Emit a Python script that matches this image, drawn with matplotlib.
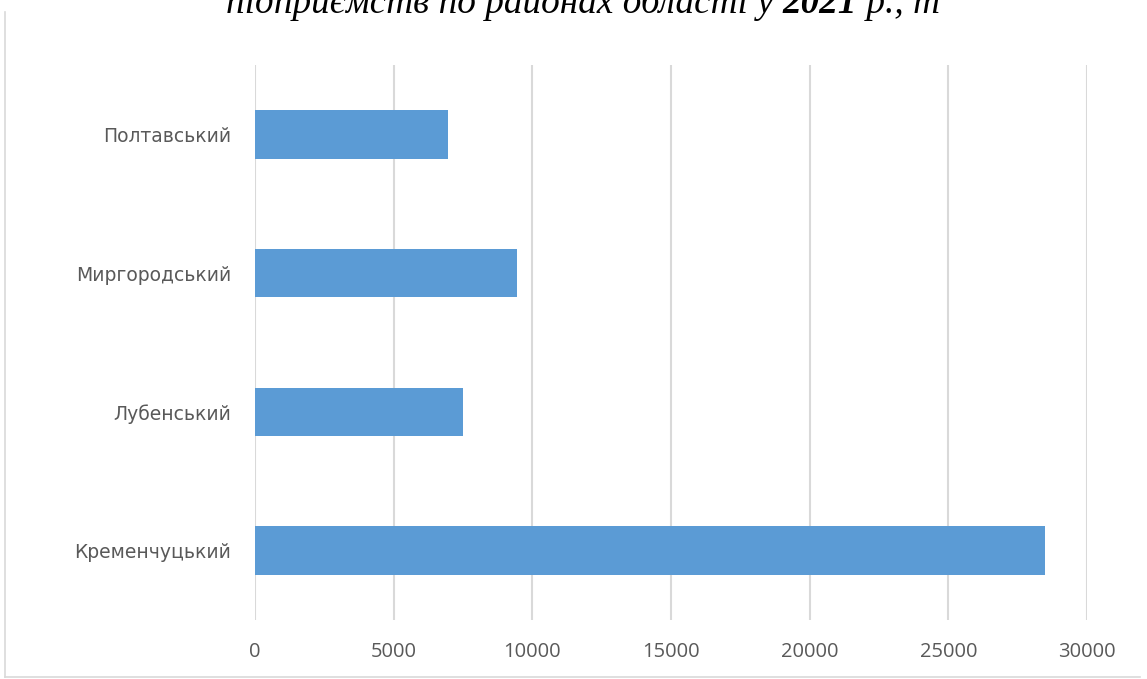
import matplotlib
matplotlib.use("Agg")
import matplotlib.pyplot as plt
from matplotlib.lines import Line2D

categories = ["Кременчуцький", "Лубенський", "Миргородський", "Полтавський"]
values = [28500, 7500, 9450, 6950]
xticks = [0, 5000, 10000, 15000, 20000, 25000, 30000]
title_parts = [("підприємств по районах області у ", "normal"), ("2021", "bold"), (" р., т", "normal")]

W, H = 1147, 679
fig = plt.figure(figsize=(W / 100, H / 100), dpi=100)
ax = fig.add_axes([255 / W, 1 - 620 / H, (1087 - 255) / W, (620 - 65) / H])

ax.barh(range(len(categories)), values, height=0.35, color="#5B9BD5", zorder=3)
ax.set_xlim(0, 30000)
ax.set_ylim(-0.5, len(categories) - 0.5)
ax.set_xticks(xticks)
ax.set_xticklabels([str(t) for t in xticks])
ax.set_yticks(range(len(categories)))
ax.set_yticklabels(categories)
ax.grid(axis="x", color="#d9d9d9", linewidth=1.5, zorder=0)
ax.grid(axis="y", visible=False)
for s in ax.spines.values():
    s.set_visible(False)
ax.tick_params(axis="both", length=0, labelcolor="#595959")
ax.tick_params(axis="x", pad=16, labelsize=14.5)
ax.tick_params(axis="y", pad=17, labelsize=13.5)
for lab in ax.get_xticklabels():
    lab.set_fontfamily("Open Sans")
for lab in ax.get_yticklabels():
    lab.set_fontfamily("DejaVu Sans")

# outer chart border
fig.add_artist(Line2D([5 / W, 5 / W], [1 - 12 / H, 1 - 677 / H], color="#d9d9d9", linewidth=1.2))
fig.add_artist(Line2D([5 / W, 1140 / W], [1 - 677 / H, 1 - 677 / H], color="#d9d9d9", linewidth=1.2))

# title (partly cut off at top, as in the reference), built from pieces so the year can be bold
renderer = fig.canvas.get_renderer()
texts = []
x_px = 0.0
for txt, weight in title_parts:
    t = fig.text(0, 0, txt, ha="left", va="baseline", fontsize=26.8,
                 fontstyle="italic", fontweight=weight, fontfamily="Liberation Serif")
    texts.append((t, x_px))
    x_px += t.get_window_extent(renderer).width
start = 583 - x_px / 2
for t, off in texts:
    t.set_position(((start + off) / W, 1 - 13 / H))

fig.savefig("out.png", dpi=100)
